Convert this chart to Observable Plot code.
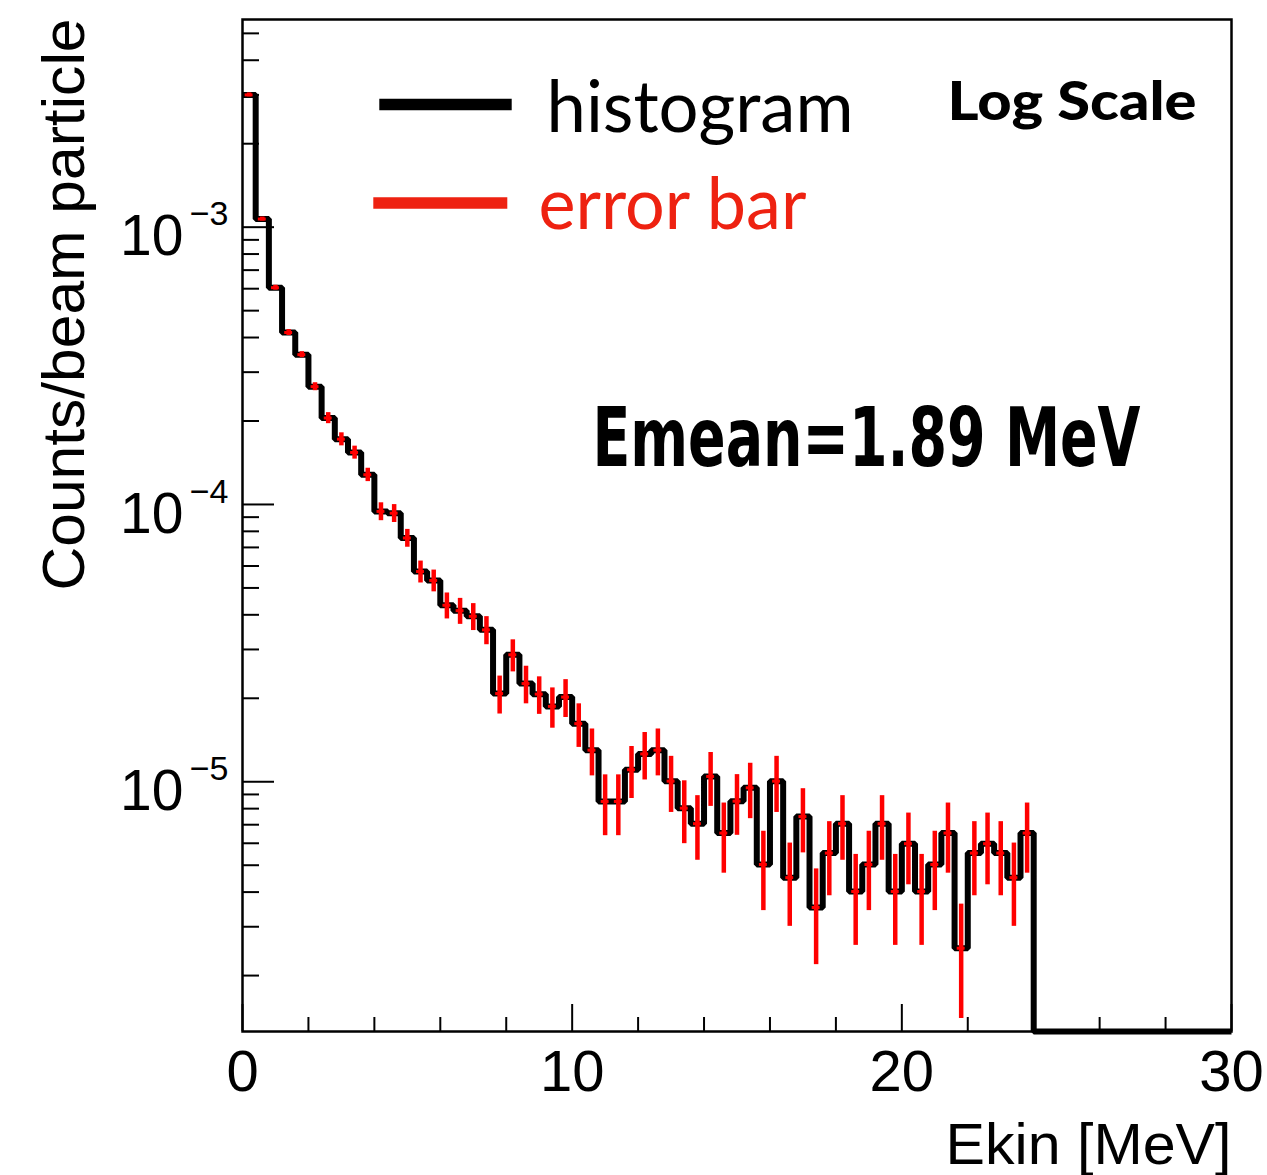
<!DOCTYPE html>
<html><head><meta charset="utf-8">
<script src="https://cdn.jsdelivr.net/npm/d3@7"></script>
<script src="https://cdn.jsdelivr.net/npm/@observablehq/plot@0.6"></script>
<style>html,body{margin:0;padding:0;background:#fff;overflow:hidden}</style>
</head><body><div id="chart"></div>
<script>
// ---- data ----
const binWidth = 0.4; // MeV, bins from 0 to 30
const counts = [
  3.00e-3, 1.07e-3, 6.05e-4, 4.17e-4, 3.47e-4, 2.66e-4, 2.05e-4, 1.72e-4, 1.54e-4, 1.28e-4,
  9.44e-5, 9.30e-5, 7.57e-5, 5.73e-5, 5.32e-5, 4.33e-5, 4.14e-5, 3.95e-5, 3.53e-5, 2.08e-5,
  2.87e-5, 2.26e-5, 2.07e-5, 1.87e-5, 2.02e-5, 1.62e-5, 1.30e-5, 8.49e-6, 8.49e-6, 1.105e-5,
  1.26e-5, 1.30e-5, 1.005e-5, 8.03e-6, 7.06e-6, 1.045e-5, 6.53e-6, 8.51e-6, 9.51e-6, 5.03e-6,
  1.005e-5, 4.51e-6, 7.49e-6, 3.52e-6, 5.53e-6, 7.06e-6, 4.02e-6, 5.03e-6, 7.06e-6, 4.02e-6,
  5.98e-6, 4.02e-6, 5.03e-6, 6.53e-6, 2.51e-6, 5.53e-6, 5.98e-6, 5.53e-6, 4.51e-6, 6.53e-6,
  0, 0, 0, 0, 0, 0, 0, 0, 0, 0, 0, 0, 0, 0, 0
];
const errors = [
  5.0e-5, 1.8e-5, 1.25e-5, 1.04e-5, 8.6e-6, 8.8e-6, 9.4e-6, 9.3e-6, 8.3e-6, 7.1e-6,
  7.0e-6, 6.9e-6, 5.6e-6, 5.2e-6, 4.8e-6, 4.65e-6, 4.45e-6, 4.4e-6, 4.1e-6, 3.25e-6,
  3.8e-6, 3.5e-6, 3.2e-6, 3.1e-6, 3.15e-6, 2.9e-6, 2.5e-6, 2.1e-6, 2.1e-6, 2.35e-6,
  2.45e-6, 2.5e-6, 2.3e-6, 2.05e-6, 1.85e-6, 2.3e-6, 1.85e-6, 2.1e-6, 2.15e-6, 1.6e-6,
  2.3e-6, 1.5e-6, 1.95e-6, 1.33e-6, 1.65e-6, 1.85e-6, 1.45e-6, 1.6e-6, 1.85e-6, 1.45e-6,
  1.73e-6, 1.45e-6, 1.6e-6, 1.85e-6, 1.11e-6, 1.65e-6, 1.73e-6, 1.65e-6, 1.5e-6, 1.85e-6,
  0, 0, 0, 0, 0, 0, 0, 0, 0, 0, 0, 0, 0, 0, 0
];
const xDomain = [0, 30];
const yDomain = [1.257e-6, 5.61e-3];
const xMajor = [0, 10, 20, 30];
const xMinor = [2, 4, 6, 8, 12, 14, 16, 18, 22, 24, 26, 28];
const yMajor = [1e-3, 1e-4, 1e-5];
const yMajorExp = ["\u22123", "\u22124", "\u22125"];
const yMinor = [2e-6,3e-6,4e-6,5e-6,6e-6,7e-6,8e-6,9e-6,
                2e-5,3e-5,4e-5,5e-5,6e-5,7e-5,8e-5,9e-5,
                2e-4,3e-4,4e-4,5e-4,6e-4,7e-4,8e-4,9e-4,
                2e-3,3e-3,4e-3,5e-3];
const legendLabels = ["histogram", "error bar"];
const legendColors = ["#000000", "#ee2211"];
const xTitle = "Ekin [MeV]";
const yTitle = "Counts/beam particle";
const scaleNote = "Log Scale";
const meanNote = "Emean=1.89 MeV";

// ---- layout ----
const W = 1267, H = 1175, mL = 242, mR = 36, mT = 19, mB = 144;
const fw = W - mL - mR, fh = H - mT - mB;
const pxPerX = fw / (xDomain[1] - xDomain[0]);
const pxPerDecade = fh / Math.log10(yDomain[1] / yDomain[0]);
const xAtPx = px => xDomain[0] + px / pxPerX;                    // px from frame left
const yAtPx = py => yDomain[1] * Math.pow(10, -py / pxPerDecade); // px from frame top
const yUp = px => yDomain[0] * Math.pow(10, px / pxPerDecade);
const ROOTFONT = "'Liberation Sans', Arial, Helvetica, sans-serif";
const LEGFONT = "Lato, Roboto, 'Liberation Sans', sans-serif";
const NOTEFONT = "'DejaVu Sans Condensed', 'DejaVu Sans', sans-serif";

// ---- derived tables ----
const bins = counts.map((v, i) => ({lo: i * binWidth, c: (i + 0.5) * binWidth, v, e: errors[i]}));
const steps = bins.map(b => ({x: b.lo, y: b.v > 0 ? b.v : yDomain[0]}));
steps.push({x: xDomain[1], y: steps[steps.length - 1].y});
const errBins = bins.filter(b => b.v > 0);

const legendY = [85, 183.5], legendX1 = [137.3, 131.3], legendX2 = [269.7, 265.3];
const legendTextDx = [304, 296], legendTextDy = [112, 209.3];

const marks = [
  // ticks (ROOT style, inside the frame)
  Plot.ruleX(xMajor, {x: d => d, y1: yDomain[0], y2: yUp(27), stroke: "black", strokeWidth: 2}),
  Plot.ruleX(xMinor, {x: d => d, y1: yDomain[0], y2: yUp(14), stroke: "black", strokeWidth: 2}),
  Plot.ruleY(yMajor, {y: d => d, x1: xDomain[0], x2: xAtPx(32), stroke: "black", strokeWidth: 2}),
  Plot.ruleY(yMinor, {y: d => d, x1: xDomain[0], x2: xAtPx(17), stroke: "black", strokeWidth: 2}),
  Plot.frame({stroke: "black", strokeWidth: 2.5}),
  // histogram
  Plot.line(steps, {x: "x", y: "y", curve: "step-after", stroke: "black", strokeWidth: 6, strokeLinejoin: "miter", strokeLinecap: "butt"}),
  // error bars
  Plot.ruleX(errBins, {x: "c", y1: d => d.v - d.e, y2: d => d.v + d.e, stroke: "#ff0000", strokeWidth: 4.5}),
  Plot.ruleY(errBins, {y: "v", x1: d => d.c - 0.12, x2: d => d.c + 0.12, stroke: "#ff0000", strokeWidth: 3}),
  // x tick labels
  Plot.text(xMajor, {x: d => d, text: d => String(d), frameAnchor: "bottom", dy: 59, lineAnchor: "bottom", textAnchor: "middle", fontSize: 58, fill: "black"}),
  // y tick labels 10^n
  Plot.text(yMajor, {y: d => d, text: () => "10", frameAnchor: "left", dx: -59, dy: 28.3, textAnchor: "end", lineAnchor: "bottom", fontSize: 57, fill: "black"}),
  Plot.text(yMajor, {y: d => d, text: (d, i) => yMajorExp[i], frameAnchor: "left", dx: -14, dy: -1.7, textAnchor: "end", lineAnchor: "bottom", fontSize: 34, fill: "black"}),
  // axis titles
  Plot.text([xTitle], {text: d => d, frameAnchor: "bottom-right", dy: 132, textAnchor: "end", lineAnchor: "bottom", fontSize: 58, fill: "black"}),
  Plot.text([yTitle], {text: d => d, frameAnchor: "top-left", dx: -159, dy: -1, rotate: -90, textAnchor: "end", lineAnchor: "bottom", fontSize: 60, fill: "black"}),
  // annotations
  Plot.text([scaleNote], {text: d => d, frameAnchor: "top-left", dx: 705, dy: 100, textAnchor: "start", lineAnchor: "bottom", fontSize: 54, fontWeight: 900, fontFamily: LEGFONT, fill: "black"}),
  Plot.text([meanNote], {text: d => d, frameAnchor: "top-left", dx: 350, dy: 446, textAnchor: "start", lineAnchor: "bottom", fontSize: 68, fontWeight: "bold", fontFamily: NOTEFONT, fill: "black"})
];
legendLabels.forEach((lab, i) => {
  marks.push(Plot.ruleY([lab], {y: () => yAtPx(legendY[i]), x1: () => xAtPx(legendX1[i]), x2: () => xAtPx(legendX2[i]), stroke: legendColors[i], strokeWidth: 11.7}));
  marks.push(Plot.text([lab], {text: d => d, frameAnchor: "top-left", dx: legendTextDx[i], dy: legendTextDy[i], textAnchor: "start", lineAnchor: "bottom", fontSize: 72, fontFamily: LEGFONT, fill: legendColors[i]}));
});

const svg = Plot.plot({
  width: W, height: H,
  marginLeft: mL, marginRight: mR, marginTop: mT, marginBottom: mB,
  style: {fontFamily: ROOTFONT, background: "white", overflow: "visible"},
  x: {domain: xDomain, axis: null},
  y: {type: "log", domain: yDomain, axis: null},
  marks
});
document.getElementById("chart").appendChild(svg);

// fit a few texts to the widths measured on the reference
const fits = {"histogram": 307, "error bar": 268, "Log Scale": 249, "Emean=1.89 MeV": 548, "Counts/beam particle": 572, "Ekin [MeV]": 286};
d3.select(svg).selectAll("text").each(function () {
  const t = this.textContent;
  if (fits[t]) { this.setAttribute("textLength", fits[t]); this.setAttribute("lengthAdjust", "spacingAndGlyphs"); }
  if (t === meanNote) {
    const tr = this.getAttribute("transform");
    if (tr && tr.indexOf("translate") >= 0) this.setAttribute("transform", tr + " scale(1,1.2)");
  }
});
</script>
</body></html>
